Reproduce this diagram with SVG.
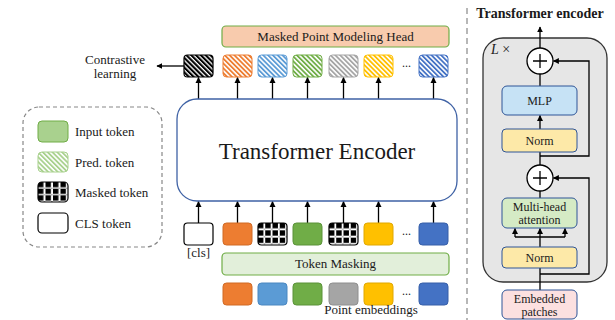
<svg xmlns="http://www.w3.org/2000/svg" width="615" height="320" viewBox="0 0 615 320">
  <style>
    text { font-family: "Liberation Serif", "Times New Roman", serif; fill: #1a1a1a; }
    .t13 { font-size: 13px; }
    .t12 { font-size: 12px; }
    .mid { text-anchor: middle; }
    .conn { stroke: #000; stroke-width: 1.3; fill: none; }
    .arr { marker-end: url(#ah); }
    .blk { stroke: #2f5597; stroke-width: 1; }
  </style>
  <defs>
    <marker id="ah" viewBox="0 0 10 10" refX="9" refY="5" markerWidth="6" markerHeight="7" markerUnits="userSpaceOnUse" orient="auto">
      <path d="M0,0 L10,5 L0,10 z" fill="#000"/>
    </marker>
    <!-- diagonal hatching for predicted tokens -->
    <pattern id="hBlack" patternUnits="userSpaceOnUse" width="3.4" height="10" patternTransform="rotate(-45)">
      <rect width="3.4" height="10" fill="#fff"/><rect width="2.1" height="10" fill="#000"/>
    </pattern>
    <pattern id="hOrange" patternUnits="userSpaceOnUse" width="3.4" height="10" patternTransform="rotate(-45)">
      <rect width="3.4" height="10" fill="#fff"/><rect width="1.8" height="10" fill="#ed7d31"/>
    </pattern>
    <pattern id="hBlue" patternUnits="userSpaceOnUse" width="3.4" height="10" patternTransform="rotate(-45)">
      <rect width="3.4" height="10" fill="#fff"/><rect width="1.8" height="10" fill="#5b9bd5"/>
    </pattern>
    <pattern id="hGreen" patternUnits="userSpaceOnUse" width="3.4" height="10" patternTransform="rotate(-45)">
      <rect width="3.4" height="10" fill="#fff"/><rect width="1.8" height="10" fill="#70ad47"/>
    </pattern>
    <pattern id="hGrey" patternUnits="userSpaceOnUse" width="3.4" height="10" patternTransform="rotate(-45)">
      <rect width="3.4" height="10" fill="#fff"/><rect width="1.8" height="10" fill="#a5a5a5"/>
    </pattern>
    <pattern id="hYellow" patternUnits="userSpaceOnUse" width="3.4" height="10" patternTransform="rotate(-45)">
      <rect width="3.4" height="10" fill="#fff"/><rect width="1.8" height="10" fill="#ffc000"/>
    </pattern>
    <pattern id="hDBlue" patternUnits="userSpaceOnUse" width="3.4" height="10" patternTransform="rotate(-45)">
      <rect width="3.4" height="10" fill="#fff"/><rect width="1.8" height="10" fill="#4472c4"/>
    </pattern>
    <pattern id="hLGreen" patternUnits="userSpaceOnUse" width="3.4" height="10" patternTransform="rotate(-45)">
      <rect width="3.4" height="10" fill="#fff"/><rect width="1.8" height="10" fill="#a9d18e"/>
    </pattern>
    <!-- block grid for masked tokens: black squares with thin white gaps -->
    <pattern id="mask" patternUnits="objectBoundingBox" width="0.25" height="0.3333" patternContentUnits="userSpaceOnUse">
      <rect width="8" height="8" fill="#fff"/>
      <rect x="0" y="0" width="5.4" height="5.3" fill="#000"/>
      <rect x="6" y="5.9" width="0.9" height="0.9" fill="#000"/>
    </pattern>
  </defs>

  <!-- separator between main pipeline and encoder detail -->
  <line x1="467" y1="8" x2="467" y2="320" stroke="#a0a0a0" stroke-width="1.5" stroke-dasharray="6 4"/>

  <!-- encoder block background -->
  <g id="block">
    <rect x="483" y="38" width="124" height="244" rx="20" fill="#e6e6e6" stroke="#333" stroke-width="1.3"/>
    <text x="491" y="54" style="font-size:14px"><tspan font-style="italic">L</tspan> ×</text>
  </g>

  <!-- connectors -->
  <g id="connectors">
    <!-- encoder outputs -->
    <line class="conn arr" x1="198.5" y1="99" x2="198.5" y2="77.5"/>
    <line class="conn arr" x1="237.5" y1="99" x2="237.5" y2="77.5"/>
    <line class="conn arr" x1="272.5" y1="99" x2="272.5" y2="77.5"/>
    <line class="conn arr" x1="307.5" y1="99" x2="307.5" y2="77.5"/>
    <line class="conn arr" x1="343.5" y1="99" x2="343.5" y2="77.5"/>
    <line class="conn arr" x1="378.5" y1="99" x2="378.5" y2="77.5"/>
    <line class="conn arr" x1="433.5" y1="99" x2="433.5" y2="77.5"/>
    <!-- encoder inputs -->
    <line class="conn arr" x1="198.5" y1="223" x2="198.5" y2="201.5"/>
    <line class="conn arr" x1="237.5" y1="223" x2="237.5" y2="201.5"/>
    <line class="conn arr" x1="272.5" y1="223" x2="272.5" y2="201.5"/>
    <line class="conn arr" x1="307.5" y1="223" x2="307.5" y2="201.5"/>
    <line class="conn arr" x1="343.5" y1="223" x2="343.5" y2="201.5"/>
    <line class="conn arr" x1="378.5" y1="223" x2="378.5" y2="201.5"/>
    <line class="conn arr" x1="433.5" y1="223" x2="433.5" y2="201.5"/>
    <!-- cls output to contrastive learning -->
    <line class="conn arr" x1="184" y1="66" x2="157" y2="66"/>

    <!-- encoder block internals -->
    <line class="conn arr" x1="540" y1="48" x2="540" y2="27"/>
    <line class="conn" x1="540" y1="86" x2="540" y2="74"/>
    <line class="conn arr" x1="540" y1="129" x2="540" y2="115.5"/>
    <line class="conn" x1="540" y1="165" x2="540" y2="152"/>
    <polyline class="conn arr" points="540,156 589,156 589,61 553.5,61"/>
    <line class="conn" x1="540" y1="198" x2="540" y2="191"/>
    <line class="conn" x1="540" y1="247" x2="540" y2="237"/>
    <line class="conn" x1="515" y1="237" x2="565" y2="237"/>
    <line class="conn arr" x1="515" y1="237" x2="515" y2="228.5"/>
    <line class="conn arr" x1="540" y1="237" x2="540" y2="228.5"/>
    <line class="conn arr" x1="565" y1="237" x2="565" y2="228.5"/>
    <polyline class="conn arr" points="540,274 589,274 589,178 553.5,178"/>
    <line class="conn" x1="540" y1="290" x2="540" y2="268"/>
  </g>

  <!-- prediction head -->
  <g id="head">
    <rect x="222" y="26" width="227" height="21" rx="4" fill="#f8cbad" stroke="#70ad47" stroke-width="1.2"/>
    <text class="t13 mid" x="335.5" y="41">Masked Point Modeling Head</text>
  </g>

  <!-- predicted tokens -->
  <g id="pred-tokens">
    <rect x="184" y="55" width="29" height="22" rx="3.5" fill="url(#hBlack)" stroke="#000" stroke-width="1.2"/>
    <rect x="223" y="55" width="29" height="22" rx="3.5" fill="url(#hOrange)" stroke="#ed7d31"/>
    <rect x="258" y="55" width="29" height="22" rx="3.5" fill="url(#hBlue)" stroke="#5b9bd5"/>
    <rect x="293" y="55" width="29" height="22" rx="3.5" fill="url(#hGreen)" stroke="#70ad47"/>
    <rect x="329" y="55" width="29" height="22" rx="3.5" fill="url(#hGrey)" stroke="#a5a5a5"/>
    <rect x="364" y="55" width="29" height="22" rx="3.5" fill="url(#hYellow)" stroke="#ffc000"/>
    <text class="t12 mid" x="406.5" y="67">...</text>
    <rect x="419" y="55" width="29" height="22" rx="3.5" fill="url(#hDBlue)" stroke="#4472c4"/>
  </g>

  <g id="contrastive">
    <text class="t13 mid" x="115" y="64">Contrastive</text>
    <text class="t13 mid" x="115" y="78">learning</text>
  </g>

  <!-- transformer encoder -->
  <g id="encoder">
    <rect x="177" y="99" width="280" height="102" rx="20" fill="#fff" stroke="#3f62a5" stroke-width="1.3"/>
    <text class="mid" x="317" y="159" style="font-size:23px">Transformer Encoder</text>
  </g>

  <!-- encoder input tokens -->
  <g id="input-tokens">
    <rect x="184" y="223" width="29" height="22" rx="3.5" fill="#fff" stroke="#000" stroke-width="1.2"/>
    <rect x="223" y="223" width="29" height="22" rx="3.5" fill="#ed7d31" stroke="#d06a25"/>
    <rect x="258" y="223" width="29" height="22" rx="3.5" fill="url(#mask)" stroke="#000" stroke-width="1.2"/>
    <rect x="293" y="223" width="29" height="22" rx="3.5" fill="#70ad47" stroke="#5a9238"/>
    <rect x="329" y="223" width="29" height="22" rx="3.5" fill="url(#mask)" stroke="#000" stroke-width="1.2"/>
    <rect x="364" y="223" width="29" height="22" rx="3.5" fill="#ffc000" stroke="#e0a800"/>
    <text class="t12 mid" x="406.5" y="235">...</text>
    <rect x="419" y="223" width="29" height="22" rx="3.5" fill="#4472c4" stroke="#365fa8"/>
    <text class="t13 mid" x="198.5" y="257">[cls]</text>
  </g>

  <g id="token-masking">
    <rect x="222" y="253" width="227" height="22" rx="4" fill="#e2efda" stroke="#70ad47" stroke-width="1.2"/>
    <text class="t13 mid" x="335.5" y="268">Token Masking</text>
  </g>

  <!-- point embeddings -->
  <g id="embeddings">
    <rect x="223" y="283" width="29" height="22" rx="3.5" fill="#ed7d31" stroke="#d06a25"/>
    <rect x="258" y="283" width="29" height="22" rx="3.5" fill="#5b9bd5" stroke="#4a87c0"/>
    <rect x="293" y="283" width="29" height="22" rx="3.5" fill="#70ad47" stroke="#5a9238"/>
    <rect x="329" y="283" width="29" height="22" rx="3.5" fill="#a5a5a5" stroke="#8e8e8e"/>
    <rect x="364" y="283" width="29" height="22" rx="3.5" fill="#ffc000" stroke="#e0a800"/>
    <text class="t12 mid" x="406.5" y="295">...</text>
    <rect x="419" y="283" width="29" height="22" rx="3.5" fill="#4472c4" stroke="#365fa8"/>
    <text class="t13 mid" x="371" y="314">Point embeddings</text>
  </g>

  <!-- legend -->
  <g id="legend">
    <rect x="23" y="107" width="139" height="140" rx="16" fill="none" stroke="#888" stroke-width="1.2" stroke-dasharray="4 3"/>
    <rect x="38" y="121" width="30" height="21" rx="4" fill="#a9d18e" stroke="#70ad47"/>
    <text class="t13" x="75" y="136">Input token</text>
    <rect x="38" y="152" width="30" height="20" rx="4" fill="url(#hLGreen)" stroke="#a9d18e"/>
    <text class="t13" x="75" y="167">Pred. token</text>
    <rect x="38" y="182" width="30" height="20" rx="4" fill="url(#mask)" stroke="#000" stroke-width="1.2"/>
    <text class="t13" x="75" y="197">Masked token</text>
    <rect x="38" y="213" width="30" height="20" rx="4" fill="#fff" stroke="#000" stroke-width="1.2"/>
    <text class="t13" x="75" y="228">CLS token</text>
  </g>

  <!-- encoder block detail -->
  <g id="block-title">
    <text class="mid" x="540" y="18" style="font-size:14px;font-weight:bold">Transformer encoder</text>
  </g>
  <g id="add-top">
    <circle cx="540" cy="61" r="13" fill="#fff" stroke="#000" stroke-width="1.3"/>
    <path d="M533,61 H547 M540,54 V68" stroke="#000" stroke-width="1.3"/>
  </g>
  <g id="mlp">
    <rect class="blk" x="502" y="86" width="75" height="29" rx="5" fill="#c6e2f5"/>
    <text class="t12 mid" x="539.5" y="105">MLP</text>
  </g>
  <g id="norm-top">
    <rect class="blk" x="502" y="129" width="75" height="23" rx="4" fill="#fde9a8"/>
    <text class="t12 mid" x="539.5" y="145">Norm</text>
  </g>
  <g id="add-bottom">
    <circle cx="540" cy="178" r="13" fill="#fff" stroke="#000" stroke-width="1.3"/>
    <path d="M533,178 H547 M540,171 V185" stroke="#000" stroke-width="1.3"/>
  </g>
  <g id="attention">
    <rect class="blk" x="502" y="198" width="75" height="30" rx="5" fill="#d5ebc5"/>
    <text class="t12 mid" x="539.5" y="211">Multi-head</text>
    <text class="t12 mid" x="539.5" y="224">attention</text>
  </g>
  <g id="norm-bottom">
    <rect class="blk" x="502" y="247" width="75" height="21" rx="4" fill="#fde9a8"/>
    <text class="t12 mid" x="539.5" y="262">Norm</text>
  </g>
  <g id="embedded-patches">
    <rect class="blk" x="502" y="290" width="75" height="29" rx="5" fill="#fce0e0"/>
    <text class="t12 mid" x="539.5" y="303">Embedded</text>
    <text class="t12 mid" x="539.5" y="316">patches</text>
  </g>
</svg>
